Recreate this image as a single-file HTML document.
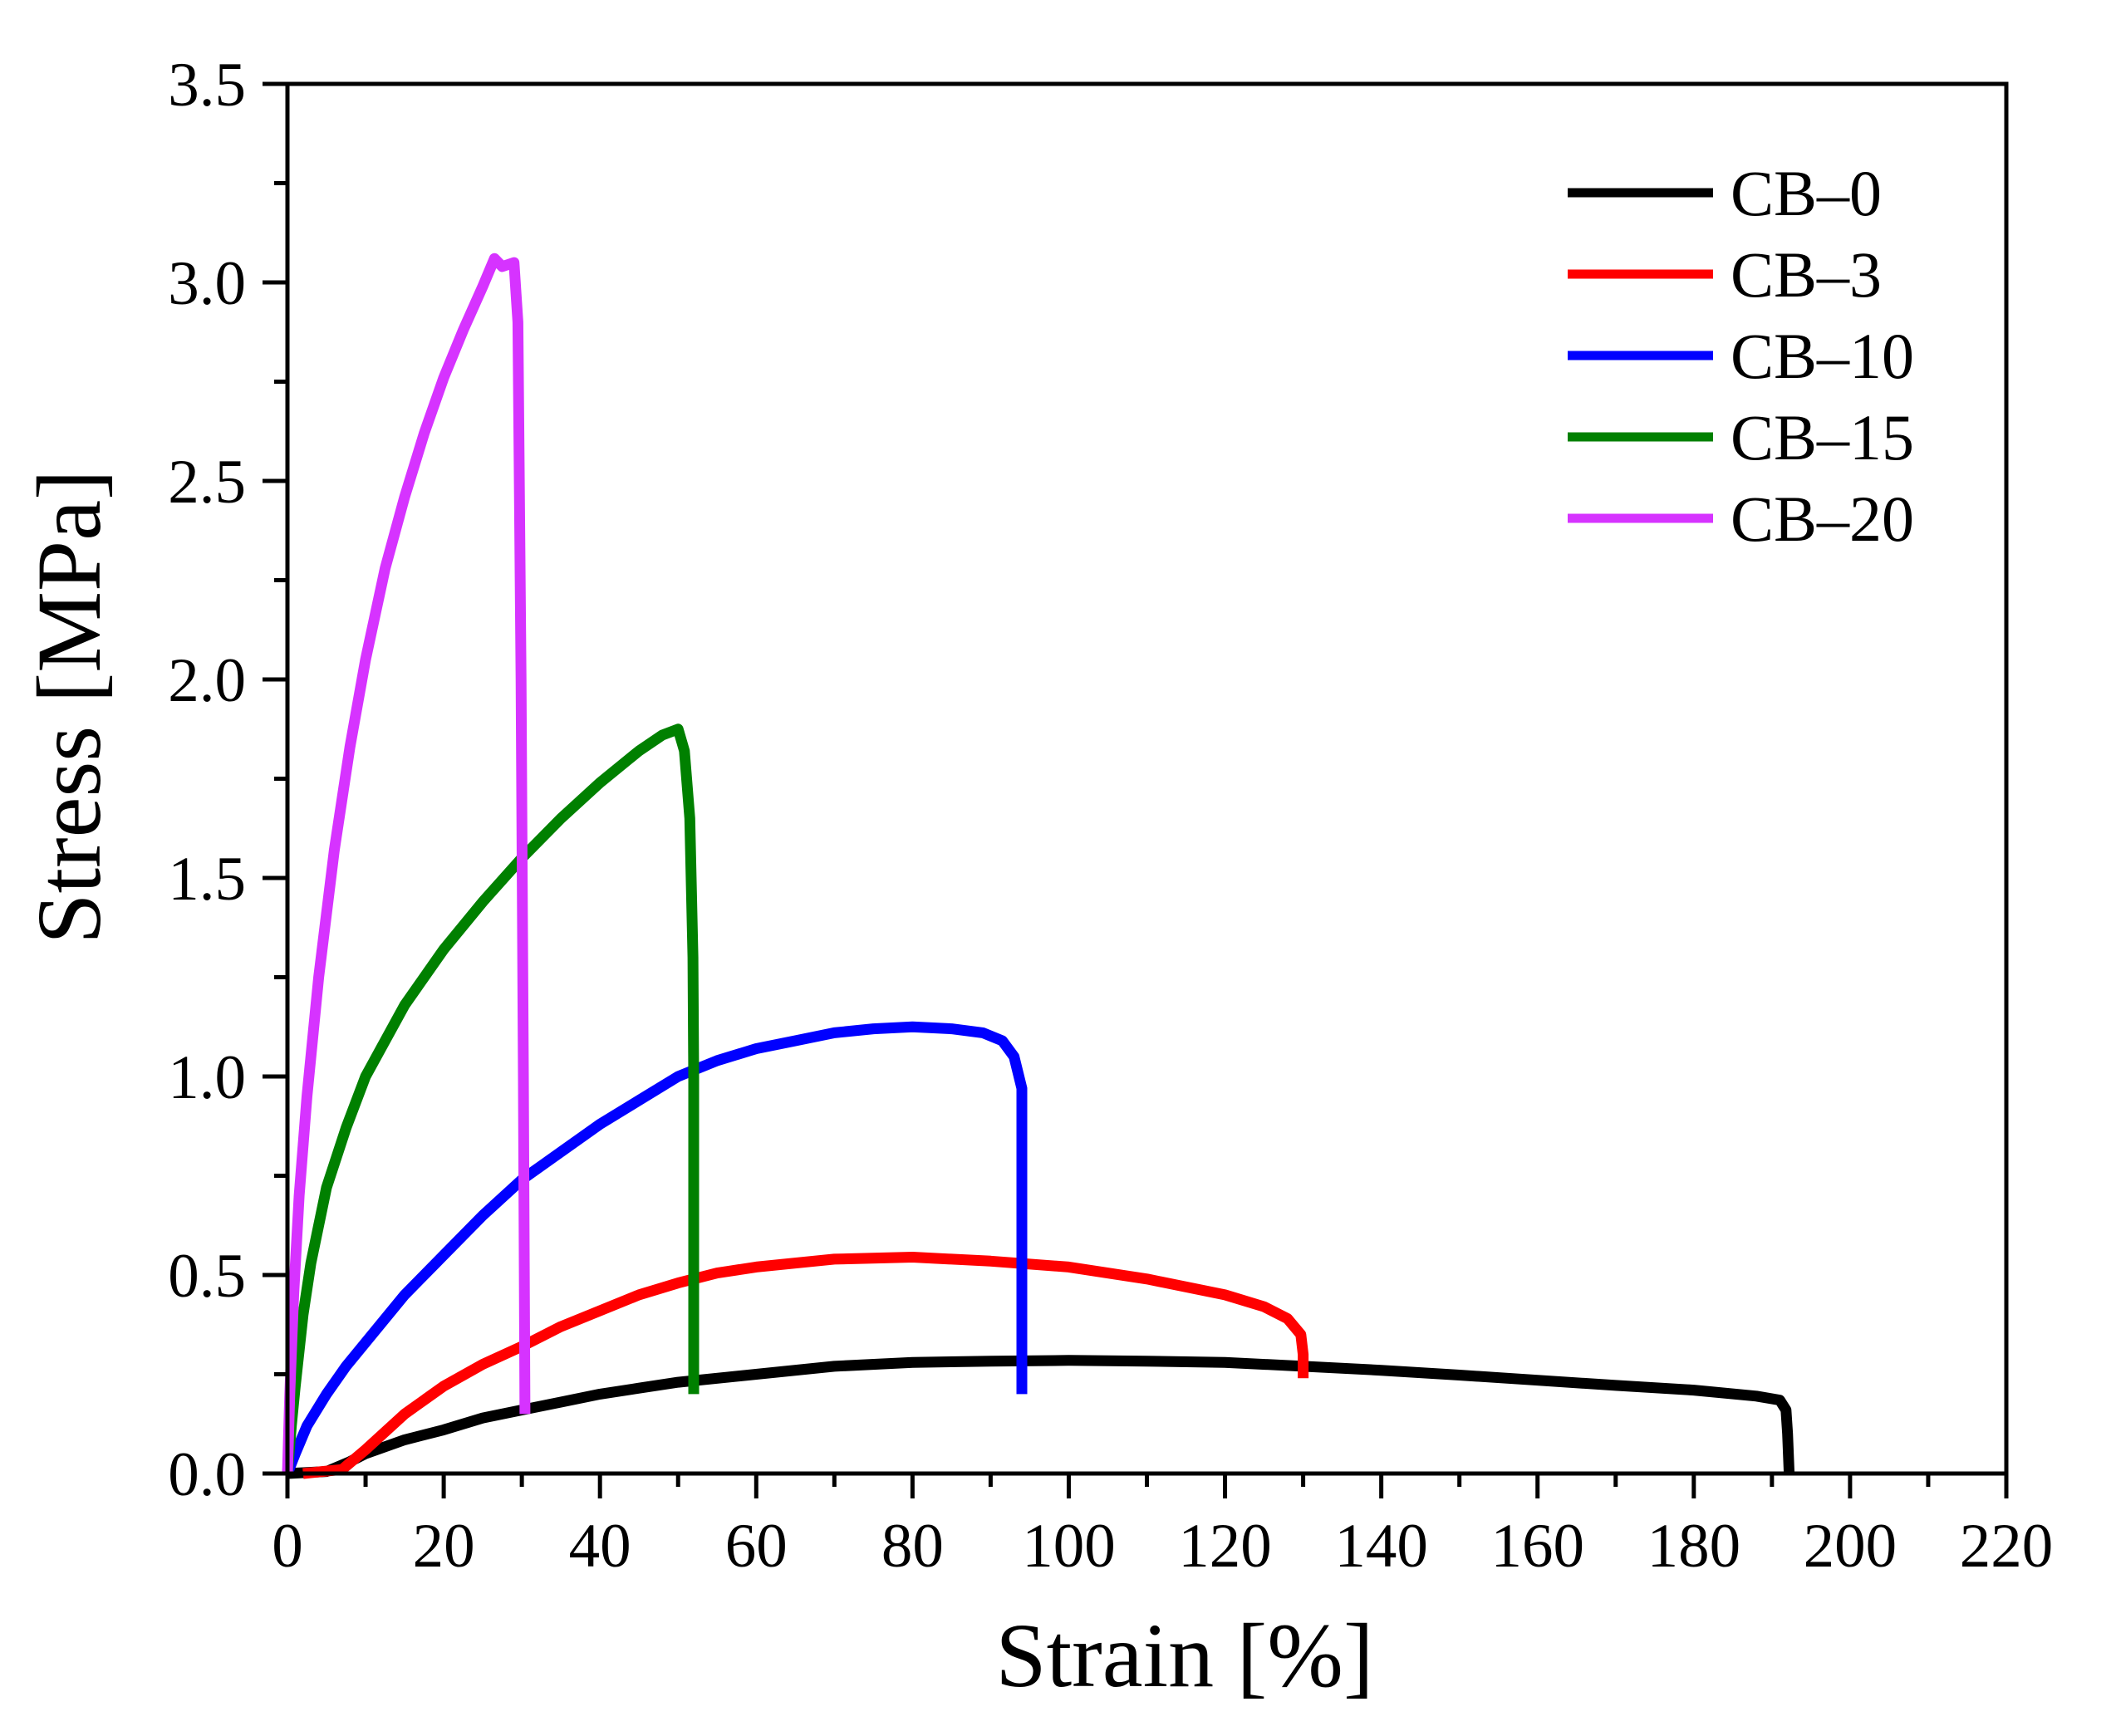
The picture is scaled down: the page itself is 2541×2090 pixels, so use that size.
<!DOCTYPE html>
<html><head><meta charset="utf-8">
<style>
html,body{margin:0;padding:0;background:#fff;}
svg{display:block;font-family:"Liberation Serif","Times New Roman",serif;}
</style></head>
<body>
<svg id="chart" width="2541" height="2090" viewBox="0 0 2541 2090" xmlns="http://www.w3.org/2000/svg">
<g id="series"></g>
<g id="axes"></g>
<g id="legend"></g>
<text x="1426" y="2030" font-size="110" text-anchor="middle">Strain [%]</text>
<text transform="translate(120,851) rotate(-90)" font-size="110" text-anchor="middle">Stress [MPa]</text>
</svg>
<script>
const xTicks = [0,20,40,60,80,100,120,140,160,180,200,220];
const yTicks = [0.0,0.5,1.0,1.5,2.0,2.5,3.0,3.5];
const seriesNames = ["CB\u20130","CB\u20133","CB\u201310","CB\u201315","CB\u201320"];
const seriesColors = ["#000000","#ff0000","#0000ff","#008000","#d633ff"];
const cb0 = [[0,0],[5,0.005],[8,0.03],[10,0.05],[15,0.085],[20,0.11],[25,0.14],[30,0.16],[35,0.18],[40,0.2],[45,0.215],[50,0.23],[60,0.25],[70,0.27],[80,0.28],[90,0.283],[100,0.285],[110,0.283],[120,0.28],[130,0.27],[140,0.26],[150,0.248],[160,0.235],[170,0.222],[180,0.21],[188,0.195],[191,0.185],[191.8,0.16],[192,0.1],[192.2,0]];
const cb3 = [[2,0],[7,0.01],[10,0.06],[15,0.15],[20,0.22],[25,0.275],[30,0.32],[35,0.37],[40,0.41],[45,0.45],[50,0.48],[55,0.505],[60,0.52],[70,0.54],[80,0.545],[90,0.535],[100,0.52],[110,0.49],[120,0.45],[125,0.42],[128,0.39],[129.7,0.35],[130,0.3],[130,0.24]];
const cb10 = [[0,0],[1,0.05],[2.5,0.12],[5,0.2],[7.5,0.27],[10,0.33],[15,0.45],[20,0.55],[25,0.65],[30,0.74],[35,0.81],[40,0.88],[45,0.94],[50,1.0],[55,1.04],[60,1.07],[65,1.09],[70,1.11],[75,1.12],[80,1.125],[85,1.12],[89,1.11],[91.5,1.09],[93,1.05],[94,0.97],[94,0.2]];
const cb15 = [[0,0],[0.5,0.12],[1,0.22],[2,0.4],[3,0.53],[5,0.72],[7.5,0.87],[10,1.0],[15,1.18],[20,1.32],[25,1.44],[30,1.55],[35,1.65],[40,1.74],[45,1.82],[48,1.86],[50,1.875],[50.8,1.82],[51.5,1.65],[51.9,1.3],[52,1.0],[52,0.2]];
const cb20 = [[0,0],[0.3,0.2],[0.8,0.45],[1.5,0.7],[2.5,0.95],[4,1.25],[6,1.57],[8,1.83],[10,2.05],[12.5,2.28],[15,2.46],[17.5,2.62],[20,2.76],[22.5,2.88],[25,2.99],[26.5,3.06],[27.5,3.04],[29,3.05],[29.5,2.9],[29.9,2.0],[30.2,1.0],[30.4,0.15]];
const allSeries = [cb0,cb3,cb10,cb15,cb20];

const L=346,R=2415,T=101,B=1774;
const xMin=0,xMax=220,yMin=0,yMax=3.5;
function sx(v){return L+(v-xMin)/(xMax-xMin)*(R-L);}
function sy(v){return B-(v-yMin)/(yMax-yMin)*(B-T);}
const NS="http://www.w3.org/2000/svg";
function mk(tag,attrs,parent){const e=document.createElementNS(NS,tag);for(const k in attrs)e.setAttribute(k,attrs[k]);parent.appendChild(e);return e;}

const sg=document.getElementById('series');
allSeries.forEach((s,i)=>{
  const p=mk('polyline',{points:s.map(d=>sx(d[0]).toFixed(1)+','+sy(d[1]).toFixed(1)).join(' '),fill:'none',stroke:seriesColors[i],'stroke-width':13,'stroke-linejoin':'round'},sg);
  
  
});

const ag=document.getElementById('axes');
const frame=mk('rect',{x:L,y:T,width:R-L,height:B-T,fill:'none',stroke:'#000','stroke-width':5},ag);


for(let v=0;v<=220;v+=10){
  const major=v%20===0;
  const t=mk('line',{x1:sx(v),x2:sx(v),y1:B,y2:B+(major?30:16),stroke:'#000','stroke-width':5},ag);
  
  
}
xTicks.forEach(v=>{
  const t=mk('text',{x:sx(v),y:B+112,'font-size':75,'text-anchor':'middle'},ag);
  t.textContent=String(v);
  
  
});
for(let k=0;k<=14;k++){
  const v=k*0.25;const major=k%2===0;
  const t=mk('line',{x1:L-(major?30:16),x2:L,y1:sy(v),y2:sy(v),stroke:'#000','stroke-width':5},ag);
  
  
}
yTicks.forEach(v=>{
  const t=mk('text',{x:L-50,y:sy(v)+26,'font-size':75,'text-anchor':'end'},ag);
  t.textContent=v.toFixed(1);
  
  
});

const lg=document.getElementById('legend');
seriesNames.forEach((n,i)=>{
  const y=232+i*98;
  const l=mk('line',{x1:1887,x2:2062,y1:y,y2:y,stroke:seriesColors[i],'stroke-width':11},lg);
  
  
  const t=mk('text',{x:2083,y:y+27,'font-size':78},lg);
  t.textContent=n;
  
  
});
</script>
</body></html>
